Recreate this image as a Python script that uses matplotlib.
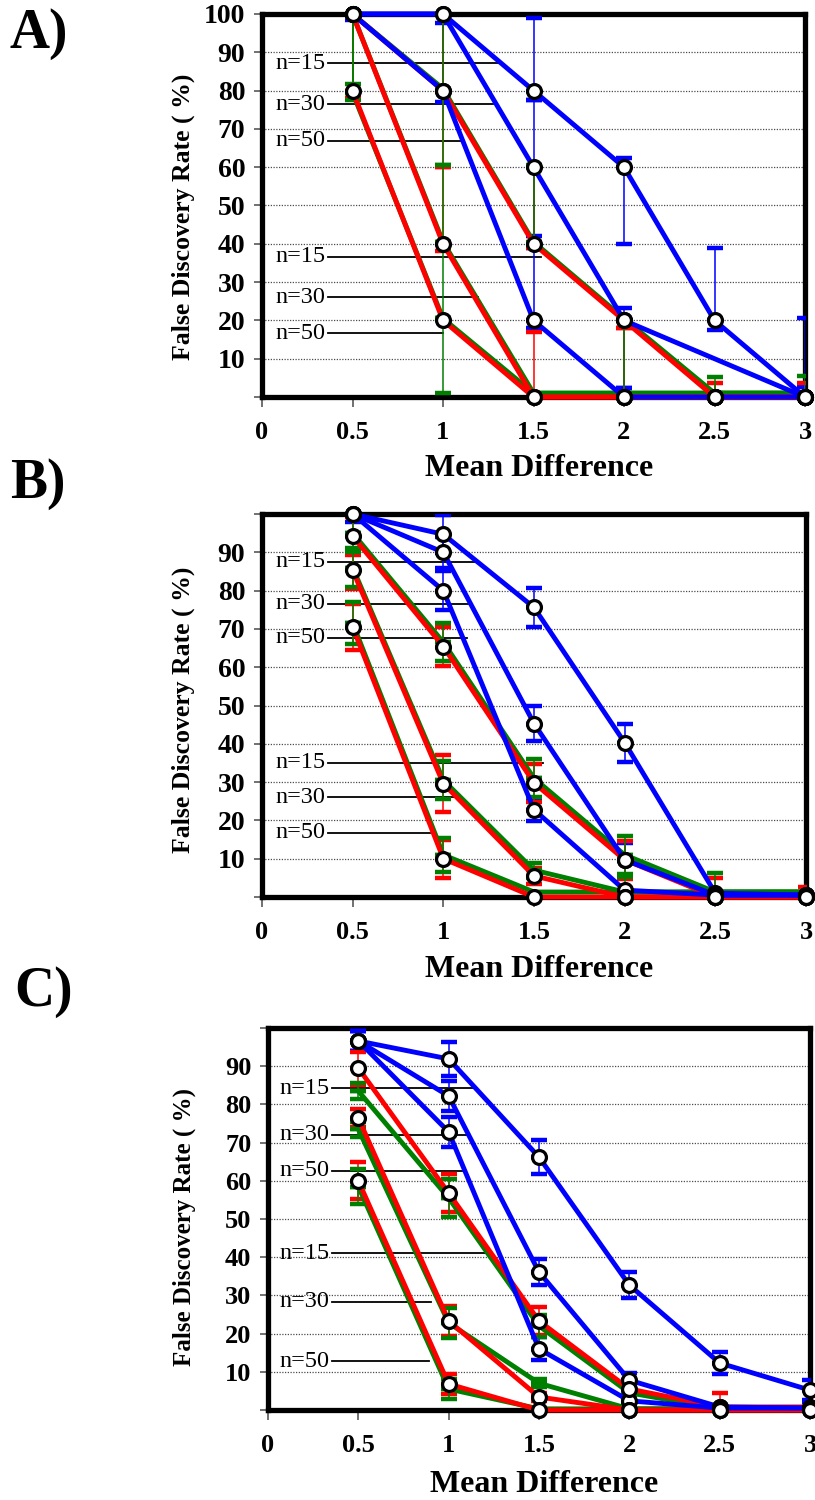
import numpy as np
import matplotlib
matplotlib.use("Agg")
import matplotlib.pyplot as plt

plt.rcParams['font.family'] = ['Liberation Serif', 'DejaVu Serif']
plt.rcParams['font.weight'] = 'bold'

# ---------------- data ----------------
X = [0.5, 1, 1.5, 2, 2.5, 3]
x_ticks = [0, 0.5, 1, 1.5, 2, 2.5, 3]
x_tick_labels = ['0', '0.5', '1', '1.5', '2', '2.5', '3']
y_ticks = [0, 10, 20, 30, 40, 50, 60, 70, 80, 90, 100]
n_labels = ['n=15', 'n=30', 'n=50']
panel_letters = ['A)', 'B)', 'C)']
x_title = 'Mean Difference'
y_title = 'False Discovery Rate ( %)'
nan = float('nan')

# Panel A  (errors given as [lower, upper])
A_blue15 = [100, 100, 80, 60, 20, 0]
A_blue15_err = [[0, 0, 2.5, 20, 2.5, 0], [0, 0, 19, 2.5, 19, 20.6]]
A_blue30 = [100, 100, 60, 20, nan, 0]
A_blue30_err = [[1.6, 0, 18, 17.7, 0, 0], [0, 0, 17.5, 3.2, 0, 2.6]]
A_blue50 = [100, 80, 20, 0, 0, 0]
A_blue50_err = [[0, 3, 2, 0, 0, 0], [0, 17.7, 19, 2.3, 0, 0]]
A_red15 = [100, 80, 40, 20, 0, 0]
A_red15_err = [[22, 20, 1, 2, 0, 0], [0, 20, 20, 0, 3.7, 3.7]]
A_red30 = [100, 40, 0, 0, 0, 0]
A_red30_err = [[0, 2, 0, 0, 0, 0], [0, 20, 17, 18, 0, 0]]
A_red50 = [80, 20, 0, 0, 0, 0]
A_red50_err = [[2, 0, 0, 0, 0, 0], [20, 0, 0, 0, 0, 0]]
A_green15 = [100, 80.5, 40.5, 20.5, 1, 1]
A_green15_err = [[18.3, 20, 0, 0, 0, 0], [0, 20, 20, 0, 4.3, 4.5]]
A_green30 = [100, 40.5, 1, 1, 1, 1]
A_green30_err = [[0, 0, 0, 0, 0, 0], [0, 20, 0, 19, 0, 0]]
A_green50 = [79.5, 20.5, 1, 1, 1, 1]
A_green50_err = [[2, 19.5, 0, 0, 0, 0], [20, 20, 0, 0, 0, 0]]

# Panel B  (symmetric errors)
B_blue15 = [100, 94.7, 75.6, 40.3, 1, 0.5]
B_blue15_err = [0, 5, 5, 5, 0, 0]
B_blue30 = [100, 90, 45.3, 9.7, 0.5, 0.5]
B_blue30_err = [2, 4, 4.5, 4.5, 0, 0]
B_blue50 = [100, 80, 22.8, 1.8, 0.5, 0.5]
B_blue50_err = [0, 5, 3, 0, 0, 0]
B_red15 = [94.2, 65.4, 29.8, 9.7, 0, 0]
B_red15_err = [5, 5, 5, 5, 5, 2.6]
B_red30 = [85.3, 29.6, 5.5, 0, 0, 0]
B_red30_err = [5, 7.5, 2, 0, 0, 0]
B_red50 = [70.5, 10, 0, 0, 0, 0]
B_red50_err = [6, 5, 0, 0, 0, 0]
B_green15 = [95, 66.5, 31, 11, 1.3, 1.3]
B_green15_err = [5, 5, 5, 5, 5, 0]
B_green30 = [86, 30.5, 7, 1.3, 1.3, 1.3]
B_green30_err = [5, 5, 2, 4, 0, 0]
B_green50 = [71.5, 11, 1.3, 1.3, 1.3, 1.3]
B_green50_err = [5.5, 4.5, 0, 0, 0, 0]

# Panel C  (symmetric errors)
C_blue15 = [96.6, 91.9, 66.2, 32.7, 12.3, 5.2]
C_blue15_err = [2.6, 4.5, 4.5, 3.5, 2.8, 2.7]
C_blue30 = [96.6, 82.2, 36.1, 7.8, 0.8, 0.5]
C_blue30_err = [2.6, 4, 3.5, 2, 0, 1.5]
C_blue50 = [96.6, 72.8, 16, 2.4, 0.5, 0.5]
C_blue50_err = [2.6, 4, 3, 1, 0, 0]
C_red15 = [89.5, 56.8, 23.3, 5.5, 0.8, 0.8]
C_red15_err = [4.3, 5, 3.7, 1.5, 3.7, 0]
C_red30 = [76.4, 23.3, 3.4, 0, 0, 0]
C_red30_err = [2.4, 3.8, 1, 0, 0, 0]
C_red50 = [60, 6.8, 0, 0, 0, 0]
C_red50_err = [4.8, 2.5, 0, 0, 0, 0]
C_green15 = [83.5, 55.5, 22, 4.5, 0.3, 0.3]
C_green15_err = [2, 5, 3, 1, 0, 0]
C_green30 = [73.5, 22.8, 7, 0.3, 0.3, 0.3]
C_green30_err = [2, 4, 1, 0, 0, 0]
C_green50 = [58.5, 5.5, 0.3, 0.3, 0.3, 0.3]
C_green50_err = [4.5, 2.5, 0, 0, 0, 0]

# ---------------- layout / style ----------------
BLUE, RED, GREEN = '#0000FF', '#FF0000', '#008000'
W, H = 815, 1500
axes_px = [(262, 14, 805, 397), (262, 514, 806, 897), (268, 1028, 810, 1410)]
letter_px = [(10, 34), (10, 484), (14, 992)]
ytick_fs = [20, 20, 19]
ylabel_fs = [18.5, 18.5, 18]
ylabel_xy = [(-0.123, 0.47), (-0.123, 0.49), (-0.133, 0.48)]
xlabel_xy = [(0.51, -0.150), (0.51, -0.152), (0.51, -0.157)]
label_specs = [
    dict(tx=0.077, x0=0.365, ys=[87.1, 76.5, 66.9, 36.6, 26.1, 16.7],
         x1=[1.326, 1.276, 1.11, 1.54, 1.193, 1.0]),
    dict(tx=0.077, x0=0.365, ys=[87.5, 76.6, 67.7, 35.1, 26.1, 16.8],
         x1=[1.193, 1.138, 1.133, 1.55, 1.077, 0.928]),
    dict(tx=0.066, x0=0.354, ys=[84.2, 72.0, 62.6, 41.0, 28.4, 12.8],
         x1=[1.155, 1.12, 1.094, 1.22, 0.9, 0.89]),
]

panels = [
    [(A_blue15, A_blue15_err), (A_blue30, A_blue30_err), (A_blue50, A_blue50_err),
     (A_red15, A_red15_err), (A_red30, A_red30_err), (A_red50, A_red50_err),
     (A_green15, A_green15_err), (A_green30, A_green30_err), (A_green50, A_green50_err)],
    [(B_blue15, B_blue15_err), (B_blue30, B_blue30_err), (B_blue50, B_blue50_err),
     (B_red15, B_red15_err), (B_red30, B_red30_err), (B_red50, B_red50_err),
     (B_green15, B_green15_err), (B_green30, B_green30_err), (B_green50, B_green50_err)],
    [(C_blue15, C_blue15_err), (C_blue30, C_blue30_err), (C_blue50, C_blue50_err),
     (C_red15, C_red15_err), (C_red30, C_red30_err), (C_red50, C_red50_err),
     (C_green15, C_green15_err), (C_green30, C_green30_err), (C_green50, C_green50_err)],
]
colors = [BLUE] * 3 + [RED] * 3 + [GREEN] * 3
line_z = [3.4] * 3 + [3.2] * 3 + [3.0] * 3
circles = [True] * 6 + [False] * 3


def err_lo_hi(err):
    a = np.asarray(err, dtype=float)
    if a.ndim == 1:
        return a, a
    return a[0], a[1]


fig = plt.figure(figsize=(W / 100, H / 100), dpi=100)

for p, (series, (l, t, r, b)) in enumerate(zip(panels, axes_px)):
    ax = fig.add_axes([l / W, 1 - b / H, (r - l) / W, (b - t) / H])
    ax.set_xlim(0, 3)
    ax.set_ylim(0, 100)

    for yv in y_ticks[1:-1]:
        ax.axhline(yv, color='0.3', lw=0.9, ls=(0, (1, 1.2)), zorder=1)

    # error bars
    for (vals, err), c in zip(series, colors):
        v = np.asarray(vals, dtype=float)
        lo, hi = err_lo_hi(err)
        xa = np.asarray(X)
        for sel, yerr in ((lo > 0, [lo, np.zeros_like(lo)]), (hi > 0, [np.zeros_like(hi), hi])):
            sel = sel & ~np.isnan(v)
            if sel.any():
                ax.errorbar(xa[sel], v[sel], yerr=[yerr[0][sel], yerr[1][sel]], fmt='none',
                            ecolor=c, elinewidth=1.1, capsize=6, capthick=3.2, zorder=2.6)

    # lines
    for (vals, err), c, z in zip(series, colors, line_z):
        v = np.asarray(vals, dtype=float)
        m = ~np.isnan(v)
        ax.plot(np.asarray(X)[m], v[m], color=c, lw=3.5, zorder=z, clip_on=False,
                solid_joinstyle='miter')

    # circles
    for (vals, err), c, circ in zip(series, colors, circles):
        if not circ:
            continue
        v = np.asarray(vals, dtype=float)
        m = ~np.isnan(v)
        ax.plot(np.asarray(X)[m], v[m], ls='none', marker='o', ms=10, mfc='white',
                mec='black', mew=2.3, zorder=6, clip_on=False)

    # n= labels
    spec = label_specs[p]
    for i, (yv, x1) in enumerate(zip(spec['ys'], spec['x1'])):
        ax.text(spec['tx'], yv, n_labels[i % 3], fontsize=17.5, fontweight='normal',
                ha='left', va='center', zorder=2.4)
        ax.plot([spec['x0'], x1], [yv, yv], color='black', lw=1.3, zorder=2.4)

    for s in ax.spines.values():
        s.set_linewidth(3.8)
        s.set_color('black')
        s.set_zorder(2.5)
    ax.set_xticks(x_ticks)
    ax.set_xticklabels(x_tick_labels, fontsize=19, fontweight='bold')
    ax.set_yticks(y_ticks)
    ylabels = ['' if (yv == 0 or (yv == 100 and p > 0)) else str(yv) for yv in y_ticks]
    ax.set_yticklabels(ylabels, fontsize=ytick_fs[p], fontweight='bold')
    ax.tick_params(axis='x', direction='out', length=7, width=1.2, color='0.35', pad=10)
    ax.tick_params(axis='y', direction='out', length=6, width=1.2, color='0.35', pad=6)
    ax.set_xlabel(x_title, fontsize=23, fontweight='bold')
    ax.xaxis.set_label_coords(*xlabel_xy[p])
    ax.set_ylabel(y_title, fontsize=ylabel_fs[p], fontweight='bold')
    ax.yaxis.set_label_coords(*ylabel_xy[p])

    lx, ly = letter_px[p]
    fig.text(lx / W, 1 - ly / H, panel_letters[p], fontsize=40, fontweight='bold',
             ha='left', va='center')

fig.savefig('out.png', dpi=100)
